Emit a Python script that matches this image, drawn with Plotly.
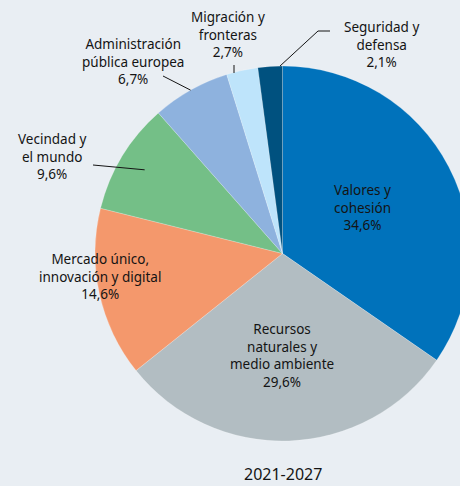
import math
import plotly.graph_objects as go

labels = ["Valores y<br>cohesión", "Recursos<br>naturales y<br>medio ambiente",
          "Mercado único,<br>innovación y digital", "Vecindad y<br>el mundo",
          "Administración<br>pública europea", "Migración y<br>fronteras",
          "Seguridad y<br>defensa"]
values = [34.6, 29.6, 14.6, 9.6, 6.7, 2.7, 2.1]
pct_text = ["34,6%", "29,6%", "14,6%", "9,6%", "6,7%", "2,7%", "2,1%"]
colors = ["#0072BB", "#B2BDC2", "#F4986C", "#74BF87", "#8EB2DE", "#BEE4FB", "#00517F"]
title = "2021-2027"

W, H = 470, 486
CX, CY, R = 282.5, 253.5, 187.5

# label placement (pixel centres of text blocks)
label_pos = [(362, 207), (282, 355), (100, 276), (52, 156), (133, 61), (228, 35), (381, 44)]
# leader lines: (fraction of radius at inner end, angle shift within slice, outer end points)
leaders = {3: (0.86, 0.0, [(93, 165)]),
           4: (1.0, 0.0, [(163, 76)]),
           5: (None, 0.0, [(234, 65), (234, 73)]),
           6: (1.0, 0.4, [(318, 31), (330, 31)])}

fig = go.Figure(go.Pie(
    values=values, labels=labels, sort=False, direction="clockwise", rotation=0,
    marker=dict(colors=colors, line=dict(width=0.6, color="rgba(255,255,255,0.35)")),
    textinfo="none", hoverinfo="skip", showlegend=False,
    domain=dict(x=[(CX - R) / W, (CX + R) / W], y=[1 - (CY + R) / H, 1 - (CY - R) / H]),
))

def px(x):
    return x / W

def py(y):
    return 1 - y / H

font = dict(family="Noto Sans, Open Sans, sans-serif", size=13.5, color="#141414")
for i, (lab, p) in enumerate(zip(labels, pct_text)):
    x, y = label_pos[i]
    fig.add_annotation(x=px(x), y=py(y), xref="paper", yref="paper",
                       text=lab + "<br>" + p, showarrow=False, font=font,
                       align="center", xanchor="center", yanchor="middle")

total = sum(values)
cum = 0
mids = []
for v in values:
    mids.append((cum, v))
    cum += v

for i, (frac, shift, pts) in leaders.items():
    if frac is not None:
        start, v = mids[i]
        a = (start + v * (0.5 + shift)) / total * 2 * math.pi
        inner = (CX + R * frac * math.sin(a), CY - R * frac * math.cos(a))
        path_pts = list(reversed(pts)) + [inner] if len(pts) > 1 else [pts[0], inner]
    else:
        path_pts = pts
    d = "M " + " L ".join(f"{px(x)},{py(y)}" for x, y in path_pts)
    fig.add_shape(type="path", path=d, xref="paper", yref="paper",
                  line=dict(color="#141414", width=1))

fig.add_annotation(x=px(CX), y=py(474), xref="paper", yref="paper", text=title,
                   showarrow=False, font=dict(family="Noto Sans, Open Sans, sans-serif",
                                              size=16, color="#141414"),
                   xanchor="center", yanchor="middle")

fig.update_layout(width=W, height=H, margin=dict(l=0, r=0, t=0, b=0),
                  paper_bgcolor="#E9EEF3", plot_bgcolor="#E9EEF3")

fig.write_html("out.html", config={"displayModeBar": False},
               post_script="document.body.style.margin='0';document.body.style.overflow='hidden';document.documentElement.style.overflow='hidden';")
